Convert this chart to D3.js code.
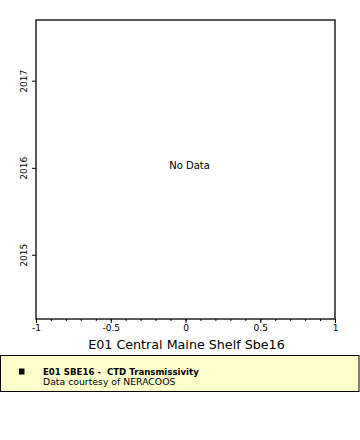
<!DOCTYPE html>
<html>
<head>
<meta charset="utf-8">
<script src="https://cdn.jsdelivr.net/npm/d3@7"></script>
<style>
  body { margin: 0; background: #fff; }
  svg { display: block; font-family: "DejaVu Sans", sans-serif; }
</style>
</head>
<body>
<div class="chart"></div>
<script>
// chart data (no observations for this station)
var xTicks = [-1, -0.5, 0, 0.5, 1];
var yTickYears = [2015, 2016, 2017];
var yDomain = ["2014-04-06", "2017-09-13"];
var values = [];
var xTitle = "E01 Central Maine Shelf Sbe16";
var legendTitle = "E01 SBE16 -  CTD Transmissivity";
var legendSub = "Data courtesy of NERACOOS";

var svgWidth = 360;
var svgHeight = 440;
var margin = { top: 20, right: 25, bottom: 121, left: 36 };
var width = 335 - margin.left;
var height = 319 - margin.top;

var svg = d3.select(".chart")
  .append("svg")
  .attr("width", svgWidth)
  .attr("height", svgHeight);

var chartGroup = svg.append("g")
  .attr("transform", `translate(${margin.left}, ${margin.top})`);

var xScale = d3.scaleLinear()
  .domain([-1, 1])
  .range([0, width]);

var parse = d3.timeParse("%Y-%m-%d");
var yScale = d3.scaleTime()
  .domain(yDomain.map(parse))
  .range([height, 0]);

// frame
chartGroup.append("rect")
  .attr("width", width)
  .attr("height", height)
  .attr("fill", "none")
  .attr("stroke", "#000")
  .attr("stroke-width", 1.3);

// minor x ticks
chartGroup.append("g")
  .attr("transform", `translate(0, ${height})`)
  .call(d3.axisBottom(xScale).ticks(20).tickSize(2).tickFormat(""))
  .call(g => g.select(".domain").remove());

// major x ticks (plain hyphen for negatives, like the original)
var xAxis = chartGroup.append("g")
  .attr("transform", `translate(0, ${height})`)
  .call(d3.axisBottom(xScale).tickValues(xTicks).tickSize(4).tickPadding(2)
    .tickFormat(d => String(d)));
xAxis.select(".domain").remove();
xAxis.selectAll("text").attr("font-size", 9).attr("fill", "#000")
  .attr("font-family", "DejaVu Sans");

// y axis with years, labels turned on their side
var yAxis = chartGroup.append("g")
  .call(d3.axisLeft(yScale)
    .tickValues(yTickYears.map(y => new Date(y, 0, 1)))
    .tickSize(4)
    .tickFormat(d3.timeFormat("%Y")));
yAxis.select(".domain").remove();
yAxis.selectAll("text")
  .attr("font-size", 9)
  .attr("fill", "#000")
  .attr("font-family", "DejaVu Sans")
  .attr("text-anchor", "middle")
  .attr("transform", "rotate(-90)")
  .attr("x", 0)
  .attr("y", -9)
  .attr("dy", "0");

// points (none)
chartGroup.selectAll("circle")
  .data(values)
  .enter().append("circle")
  .attr("cx", d => xScale(d.x))
  .attr("cy", d => yScale(d.t))
  .attr("r", 2);

if (values.length === 0) {
  chartGroup.append("text")
    .attr("x", xScale(0) + 4)
    .attr("y", height / 2 - 0.5)
    .attr("text-anchor", "middle")
    .attr("font-size", 10)
    .text("No Data");
}

// x title
svg.append("text")
  .attr("x", margin.left + width / 2 + 1)
  .attr("y", 349)
  .attr("text-anchor", "middle")
  .attr("font-size", 12.7)
  .text(xTitle);

// legend
var legend = svg.append("g").attr("transform", "translate(0, 355)");
legend.append("rect")
  .attr("x", 0.5)
  .attr("y", 0.5)
  .attr("width", 358.5)
  .attr("height", 36)
  .attr("fill", "#ffffcc")
  .attr("stroke", "#000")
  .attr("stroke-width", 1);
legend.append("rect")
  .attr("x", 19)
  .attr("y", 13.5)
  .attr("width", 5.5)
  .attr("height", 6)
  .attr("fill", "#000");
legend.append("text")
  .attr("x", 43)
  .attr("y", 20)
  .attr("font-size", 8.6)
  .attr("font-weight", "bold")
  .style("white-space", "pre")
  .text(legendTitle);
legend.append("text")
  .attr("x", 43)
  .attr("y", 29.5)
  .attr("font-size", 9.3)
  .text(legendSub);
</script>
</body>
</html>
